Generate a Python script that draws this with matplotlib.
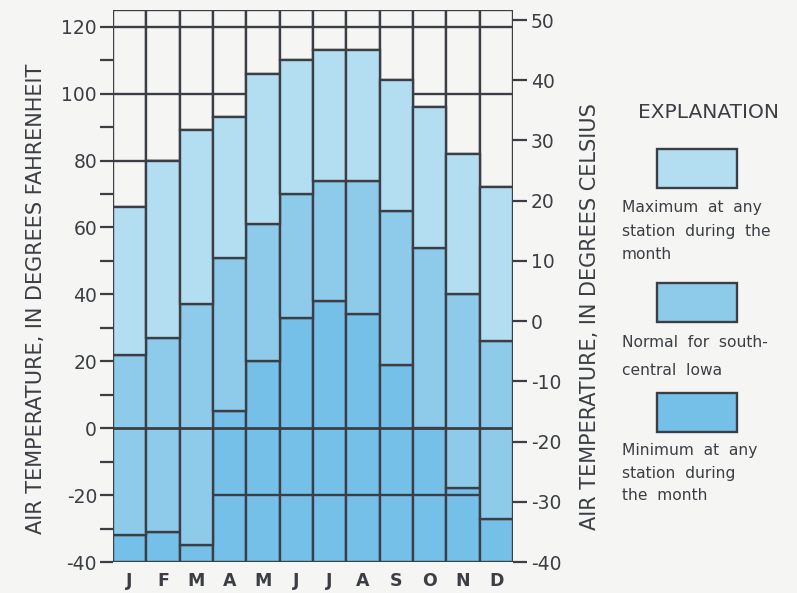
import matplotlib.pyplot as plt
from matplotlib.patches import Rectangle

plt.rcParams['font.family'] = ['DejaVu Sans']
plt.rcParams['axes.unicode_minus'] = False

months = ['J', 'F', 'M', 'A', 'M', 'J', 'J', 'A', 'S', 'O', 'N', 'D']
max_temp = [66, 80, 89, 93, 106, 110, 113, 113, 104, 96, 82, 72]
normal_temp = [22, 27, 37, 51, 61, 70, 74, 74, 65, 54, 40, 26]
min_temp = [-32, -31, -35, 5, 20, 33, 38, 34, 19, 0, -18, -27]

f_ticks = [-40, -20, 0, 20, 40, 60, 80, 100, 120]
f_minor = [-30, -10, 10, 30, 50, 70, 90, 110]
c_ticks = [-40, -30, -20, -10, 0, 10, 20, 30, 40, 50]
f_bottom, f_top = -40, 125

legend_labels = [
    ['Maximum  at  any', 'station  during  the', 'month'],
    ['Normal  for  south-', 'central  Iowa'],
    ['Minimum  at  any', 'station  during', 'the  month'],
]

paper = '#f5f5f3'
ink = '#3b3e44'
c_max = '#b3ddf1'
c_norm = '#8ecbeb'
c_min = '#74c0e9'

W, H = 797, 593
fig = plt.figure(figsize=(W / 100, H / 100), dpi=100, facecolor=paper)
ax = fig.add_axes([113 / W, 31 / H, 400 / W, 552 / H])
ax.set_facecolor(paper)

x = list(range(len(months)))
lw = 1.7

# white space above the maximum
ax.bar(x, [f_top - v for v in max_temp], bottom=max_temp, width=1.0,
       color=paper, edgecolor=ink, linewidth=lw, zorder=1)
# rules seen only in the empty part of the columns
ax.hlines([120, 100], -0.5, 11.5, color=ink, linewidth=lw, zorder=2)
ax.hlines(80, -0.5, 1.5, color=ink, linewidth=lw, zorder=2)

ax.bar(x, [v - f_bottom for v in min_temp], bottom=f_bottom, width=1.0,
       color=c_min, edgecolor=ink, linewidth=lw, zorder=3)
ax.hlines(-20, -0.5, 11.5, color=ink, linewidth=lw, zorder=3.5)
ax.bar(x, [n - m for n, m in zip(normal_temp, min_temp)], bottom=min_temp, width=1.0,
       color=c_norm, edgecolor=ink, linewidth=lw, zorder=4)
ax.bar(x, [a - n for a, n in zip(max_temp, normal_temp)], bottom=normal_temp, width=1.0,
       color=c_max, edgecolor=ink, linewidth=lw, zorder=4)
ax.hlines(0, -0.5, 11.5, color=ink, linewidth=2.0, zorder=5)

ax.set_xlim(-0.5, 11.5)
ax.set_ylim(f_bottom, f_top)
ax.set_xticks(x)
ax.set_xticklabels(months, fontsize=12.5, fontweight='bold', color=ink)
ax.tick_params(axis='x', length=0, pad=7)
ax.set_yticks(f_ticks)
ax.set_yticks(f_minor, minor=True)
ax.tick_params(axis='y', which='both', direction='out', length=9.5, width=1.6,
               color=ink, labelsize=13.5, labelcolor=ink, pad=2)
for s in ax.spines.values():
    s.set_visible(False)

ax2 = ax.twinx()
ax2.set_ylim((f_bottom - 32) / 1.8, (f_top - 32) / 1.8)
ax2.set_yticks(c_ticks)
ax2.tick_params(axis='y', direction='out', length=10, width=1.6, color=ink,
                labelsize=13.5, labelcolor=ink, pad=3)
for s in ax2.spines.values():
    s.set_visible(False)

fig.text(36 / W, 1 - 299 / H, 'AIR TEMPERATURE, IN DEGREES FAHRENHEIT', rotation=90,
         ha='center', va='center', fontsize=15, color=ink)
fig.text(590 / W, 1 - 317 / H, 'AIR TEMPERATURE, IN DEGREES CELSIUS', rotation=90,
         ha='center', va='center', fontsize=15, color=ink)

# explanation
fig.text(708 / W, 1 - 112 / H, 'EXPLANATION', ha='center', va='center', fontsize=14.5, color=ink)
box_tops = [149, 283, 393]
text_lines = [[212, 236, 259], [347, 375], [455, 478, 500]]
for top, color, lines, ys in zip(box_tops, [c_max, c_norm, c_min], legend_labels, text_lines):
    fig.patches.append(Rectangle((657 / W, 1 - (top + 39) / H), 80 / W, 39 / H,
                                 transform=fig.transFigure, facecolor=color,
                                 edgecolor=ink, linewidth=lw))
    for line, y in zip(lines, ys):
        fig.text(622 / W, 1 - y / H, line, ha='left', va='baseline', fontsize=11.2, color=ink)

fig.savefig('out.png', dpi=100, facecolor=paper)
